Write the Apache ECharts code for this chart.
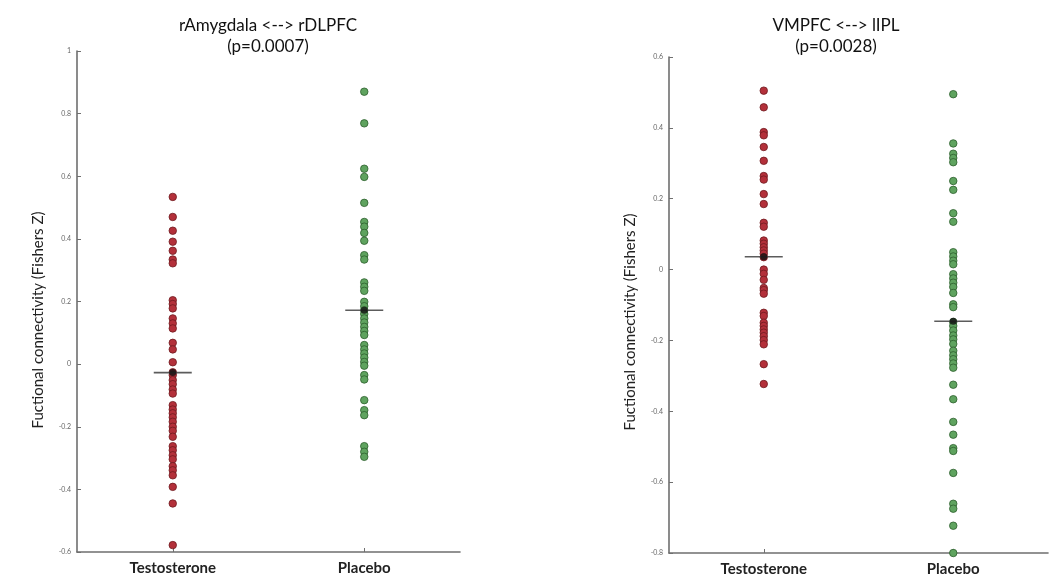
<!DOCTYPE html>
<html>
<head>
<meta charset="utf-8">
<script src="https://cdn.jsdelivr.net/npm/echarts@6/dist/echarts.min.js"></script>
<style>
html,body{margin:0;padding:0;background:#fff;}
#c{width:1061px;height:578px;}
</style>
</head>
<body>
<div id="c"></div>
<script>
const categories = ['Testosterone', 'Placebo'];

const leftTestosterone = [0.534, 0.470, 0.426, 0.391, 0.362, 0.334, 0.322, 0.204, 0.192, 0.178,
  0.146, 0.130, 0.114, 0.068, 0.047, 0.006, -0.026, -0.035, -0.051, -0.064,
  -0.081, -0.094, -0.131, -0.145, -0.157, -0.170, -0.184, -0.200, -0.213, -0.232,
  -0.262, -0.275, -0.291, -0.304, -0.326, -0.339, -0.355, -0.392, -0.445, -0.578];
const leftPlacebo = [0.870, 0.769, 0.624, 0.598, 0.515, 0.454, 0.439, 0.419, 0.394, 0.348,
  0.334, 0.261, 0.247, 0.234, 0.199, 0.185, 0.172, 0.160, 0.146, 0.133,
  0.119, 0.106, 0.093, 0.061, 0.047, 0.034, 0.021, 0.007, -0.005, -0.035,
  -0.049, -0.115, -0.147, -0.163, -0.262, -0.280, -0.296];
const rightTestosterone = [0.505, 0.458, 0.388, 0.379, 0.346, 0.307, 0.264, 0.254, 0.213, 0.185,
  0.132, 0.121, 0.082, 0.073, 0.063, 0.054, 0.045, 0.035, 0.000, -0.012,
  -0.029, -0.052, -0.058, -0.068, -0.122, -0.131, -0.150, -0.159, -0.169, -0.178,
  -0.188, -0.199, -0.211, -0.267, -0.323];
const rightPlacebo = [0.495, 0.356, 0.327, 0.315, 0.303, 0.250, 0.225, 0.159, 0.135, 0.049,
  0.037, 0.025, 0.015, -0.013, -0.025, -0.037, -0.049, -0.066, -0.098, -0.106,
  -0.148, -0.159, -0.172, -0.186, -0.197, -0.210, -0.229, -0.242, -0.253, -0.265,
  -0.277, -0.325, -0.366, -0.430, -0.466, -0.504, -0.512, -0.574, -0.661, -0.675,
  -0.723, -0.800];
const leftMeans = [-0.027, 0.172];
const rightMeans = [0.036, -0.146];

const leftTitle = 'rAmygdala <--> rDLPFC';
const leftP = '(p=0.0007)';
const rightTitle = 'VMPFC <--> lIPL';
const rightP = '(p=0.0028)';
const yName = 'Fuctional connectivity (Fishers Z)';

const FONT = 'Lato, "Noto Sans", sans-serif';
const RED = '#b3303a', RED_B = '#6e1a1f';
const GREEN = '#5fa35f', GREEN_B = '#2c5e2c';
const AXIS = '#6f6f6f';

function pts(ci, arr) { return arr.map(v => [ci, v]); }

function xAxis(gi) {
  return {
    type: 'category', gridIndex: gi, data: categories, boundaryGap: true,
    axisLine: { onZero: false, lineStyle: { color: AXIS, width: 1.6 } },
    axisTick: { show: true, inside: true, alignWithLabel: true, length: 4, lineStyle: { color: AXIS } },
    axisLabel: { color: '#222', fontFamily: FONT, fontSize: 15, fontWeight: 'bold', margin: 9 },
    splitLine: { show: false }
  };
}
function yAxis(gi, min, max) {
  return {
    type: 'value', gridIndex: gi, min: min, max: max, interval: 0.2,
    axisLine: { show: true, onZero: false, lineStyle: { color: AXIS, width: 1.6 } },
    axisTick: { show: true, inside: true, length: 4, lineStyle: { color: AXIS } },
    axisLabel: { color: '#666', fontFamily: FONT, fontSize: 7, margin: 6,
      formatter: v => String(Math.round(v * 10) / 10) },
    splitLine: { show: false }
  };
}
function dots(gi, ci, arr, fill, border) {
  return {
    type: 'scatter', xAxisIndex: gi, yAxisIndex: gi, data: pts(ci, arr),
    symbol: 'circle', symbolSize: 7.5,
    itemStyle: { color: fill, borderColor: border, borderWidth: 0.8, opacity: 1 },
    silent: true, z: 2
  };
}
function meanLine(gi, means) {
  return [{
    type: 'scatter', xAxisIndex: gi, yAxisIndex: gi, data: means.map((m, i) => [i, m]),
    symbol: 'rect', symbolSize: [38, 1.6],
    itemStyle: { color: '#4a4a4a', opacity: 0.9 }, silent: true, z: 4
  }, {
    type: 'scatter', xAxisIndex: gi, yAxisIndex: gi, data: means.map((m, i) => [i, m]),
    symbol: 'circle', symbolSize: 7,
    itemStyle: { color: '#111' }, silent: true, z: 5
  }];
}

const chart = echarts.init(document.getElementById('c'), null, { renderer: 'canvas' });
chart.setOption({
  animation: false,
  backgroundColor: '#fff',
  title: [
    { text: leftTitle + '\n' + leftP, left: 263, top: 10, textAlign: 'center',
      textStyle: { fontFamily: FONT, fontSize: 17, fontWeight: 'normal', color: '#111', lineHeight: 21, align: 'center' } },
    { text: rightTitle + '\n' + rightP, left: 831, top: 10, textAlign: 'center',
      textStyle: { fontFamily: FONT, fontSize: 17, fontWeight: 'normal', color: '#111', lineHeight: 21, align: 'center' } }
  ],
  grid: [
    { left: 77, top: 51, width: 383, height: 501 },
    { left: 669, top: 57, width: 379, height: 496 }
  ],
  xAxis: [xAxis(0), xAxis(1)],
  yAxis: [yAxis(0, -0.6, 1), yAxis(1, -0.8, 0.6)],
  graphic: [
    { type: 'text', x: 38, y: 320, rotation: Math.PI / 2,
      style: { text: yName, fontFamily: FONT, fontSize: 15, fill: '#222', align: 'center', verticalAlign: 'middle' } },
    { type: 'text', x: 630, y: 322, rotation: Math.PI / 2,
      style: { text: yName, fontFamily: FONT, fontSize: 15, fill: '#222', align: 'center', verticalAlign: 'middle' } }
  ],
  series: [
    dots(0, 0, leftTestosterone, RED, RED_B),
    dots(0, 1, leftPlacebo, GREEN, GREEN_B),
    dots(1, 0, rightTestosterone, RED, RED_B),
    dots(1, 1, rightPlacebo, GREEN, GREEN_B),
    ...meanLine(0, leftMeans),
    ...meanLine(1, rightMeans)
  ]
});
</script>
</body>
</html>
